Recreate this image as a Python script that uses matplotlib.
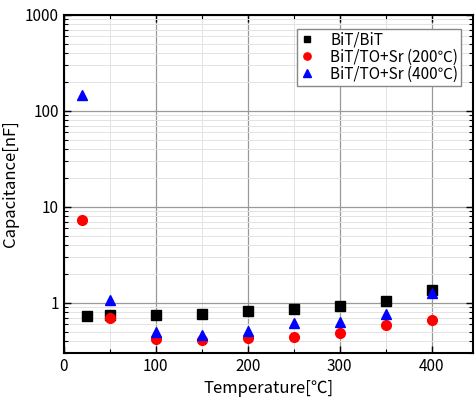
import numpy as np
import matplotlib.pyplot as plt
from matplotlib.ticker import LogLocator, MultipleLocator, FixedLocator

plt.rcParams['font.family'] = ['Noto Sans CJK JP', 'DejaVu Sans']

# data
temp_bit = [25, 50, 100, 150, 200, 250, 300, 350, 400]
cap_bit = [0.73, 0.74, 0.75, 0.77, 0.82, 0.85, 0.92, 1.05, 1.36]

temp_sr = [20, 50, 100, 150, 200, 250, 300, 350, 400]
cap_sr200 = [7.3, 0.70, 0.42, 0.41, 0.43, 0.44, 0.48, 0.58, 0.66]
cap_sr400 = [147, 1.07, 0.49, 0.46, 0.51, 0.62, 0.63, 0.77, 1.27]

labels = ['BiT/BiT', 'BiT/TO+Sr (200℃)', 'BiT/TO+Sr (400℃)']

fig = plt.figure(figsize=(4.76, 4.01), dpi=100)
ax = fig.add_axes([0.134, 0.12, 0.86, 0.843])

ax.plot(temp_bit, cap_bit, 's', color='black', markersize=6.5, label=labels[0], zorder=3)
ax.plot(temp_sr, cap_sr200, 'o', color='red', markersize=7, label=labels[1], zorder=3)
ax.plot(temp_sr, cap_sr400, '^', color='blue', markersize=7.5, label=labels[2], zorder=3)

ax.set_yscale('log')
ax.set_xlim(0, 445)
ax.set_ylim(0.3, 1000)
ax.xaxis.set_major_locator(MultipleLocator(100))
ax.xaxis.set_minor_locator(MultipleLocator(50))
ax.yaxis.set_major_locator(FixedLocator([1, 10, 100, 1000]))
ax.yaxis.set_minor_locator(LogLocator(base=10, subs=np.arange(2, 10)))
ax.set_yticklabels(['1', '10', '100', '1000'])
ax.yaxis.set_minor_formatter(plt.NullFormatter())

ax.grid(True, which='major', color='#999999', linewidth=0.9)
ax.grid(True, which='minor', color='#e3e3e3', linewidth=0.7)
ax.set_axisbelow(True)

ax.tick_params(which='both', direction='in', top=True, right=True, labelsize=11)
ax.tick_params(which='major', length=5, width=1)
ax.tick_params(which='minor', length=3, width=0.8)
for s in ax.spines.values():
    s.set_linewidth(1.5)

ax.set_xlabel('Temperature[℃]', fontsize=12)
ax.set_ylabel('Capacitance[nF]', fontsize=12)

leg = ax.legend(loc='upper right', bbox_to_anchor=(0.971, 0.959), fontsize=11,
                fancybox=False, edgecolor='#888888', framealpha=1,
                borderaxespad=0, markerscale=0.75, handlelength=1.0,
                handletextpad=1.0, borderpad=0.2, labelspacing=0.0)
leg.get_frame().set_linewidth(1)

fig.savefig('out.png', dpi=100)
